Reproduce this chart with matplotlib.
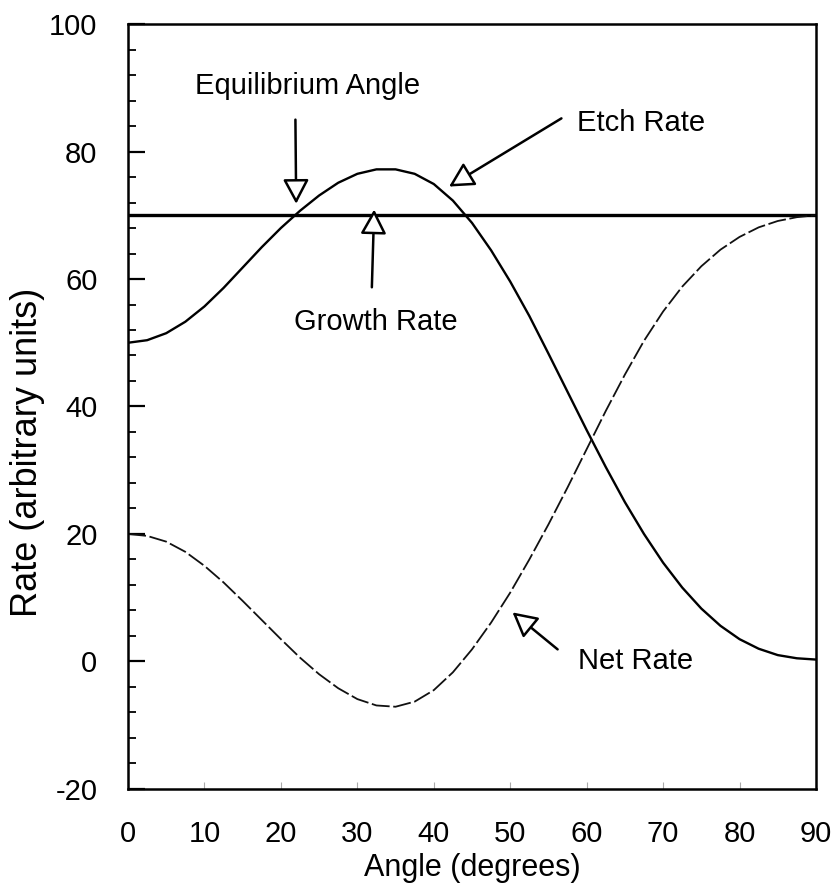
import matplotlib
matplotlib.use("Agg")
import matplotlib.pyplot as plt
from matplotlib.patches import ArrowStyle
from matplotlib.ticker import MultipleLocator

plt.rcParams['font.family'] = ['Liberation Sans', 'DejaVu Sans']
plt.rcParams['axes.unicode_minus'] = False

# ---- data ----
angle = [0, 2.5, 5, 7.5, 10, 12.5, 15, 17.5, 20, 22.5, 25, 27.5, 30, 32.5, 35,
         37.5, 40, 42.5, 45, 47.5, 50, 52.5, 55, 57.5, 60, 62.5, 65, 67.5, 70,
         72.5, 75, 77.5, 80, 82.5, 85, 87.5, 90]
etch_rate = [50.0, 50.4, 51.5, 53.3, 55.7, 58.6, 61.8, 65.0, 68.0, 70.7, 73.1,
             75.1, 76.5, 77.2, 77.2, 76.5, 74.9, 72.3, 68.8, 64.5, 59.6, 54.2,
             48.3, 42.3, 36.3, 30.5, 25.0, 20.0, 15.5, 11.6, 8.3, 5.6, 3.5,
             2.0, 1.0, 0.5, 0.3]
net_rate = [20.0, 19.7, 18.8, 17.2, 15.0, 12.4, 9.5, 6.5, 3.5, 0.6, -2.0, -4.2,
            -5.9, -6.9, -7.1, -6.3, -4.5, -1.7, 1.9, 6.1, 10.8, 16.0, 21.5,
            27.3, 33.3, 39.3, 45.0, 50.3, 54.9, 58.8, 62.0, 64.6, 66.6, 68.1,
            69.1, 69.7, 70.0]
growth_angle = [0, 90]
growth_rate = [70, 70]

x_ticks = [0, 10, 20, 30, 40, 50, 60, 70, 80, 90]
y_ticks = [-20, 0, 20, 40, 60, 80, 100]

# ---- figure ----
fig = plt.figure(figsize=(8.4, 8.93), dpi=100)
ax = fig.add_axes([0.1524, 0.1165, 0.819, 0.8566])

ax.plot(growth_angle, growth_rate, color='black', lw=2.4, solid_capstyle='butt')
ax.plot(angle, etch_rate, color='black', lw=1.7, solid_joinstyle='round')
ax.plot(angle, net_rate, color='#111111', lw=1.3, dashes=(10, 2))

ax.set_xlim(0, 90)
ax.set_ylim(-20, 100)
ax.set_xticks(x_ticks)
ax.set_yticks(y_ticks)
ax.yaxis.set_minor_locator(MultipleLocator(4))

for s in ax.spines.values():
    s.set_linewidth(1.8)

ax.tick_params(axis='y', which='major', direction='in', length=12, width=1.6,
               labelsize=21, pad=22)
ax.tick_params(axis='y', which='minor', direction='in', length=6, width=1.3)
ax.tick_params(axis='x', which='major', direction='in', length=5, width=0.8,
               color='#aaaaaa', labelsize=21, pad=22)

ax.set_xlabel('Angle (degrees)', fontsize=22, labelpad=4)
ax.set_ylabel('Rate (arbitrary units)', fontsize=26)
ax.yaxis.set_label_coords(-0.12, 0.44)

style = ArrowStyle('-|>', head_length=1.5, head_width=0.8)
arrowprops = dict(arrowstyle=style, mutation_scale=10, fc='white', ec='black',
                  lw=1.8, shrinkA=0, shrinkB=0)

ax.text(23.5, 90.2, 'Equilibrium Angle', fontsize=21, ha='center', va='center')
ax.annotate('', xy=(22.0, 71.8), xytext=(21.9, 85.0), arrowprops=arrowprops)

ax.text(67.1, 84.5, 'Etch Rate', fontsize=21, ha='center', va='center')
ax.annotate('', xy=(42.0, 74.5), xytext=(56.7, 85.2), arrowprops=arrowprops)

ax.text(32.4, 53.2, 'Growth Rate', fontsize=21, ha='center', va='center')
ax.annotate('', xy=(32.2, 70.9), xytext=(31.9, 58.7), arrowprops=arrowprops)

ax.text(66.4, 0.0, 'Net Rate', fontsize=21, ha='center', va='center')
ax.annotate('', xy=(50.3, 7.7), xytext=(56.2, 1.9), arrowprops=arrowprops)

fig.savefig('out.png', dpi=100)
